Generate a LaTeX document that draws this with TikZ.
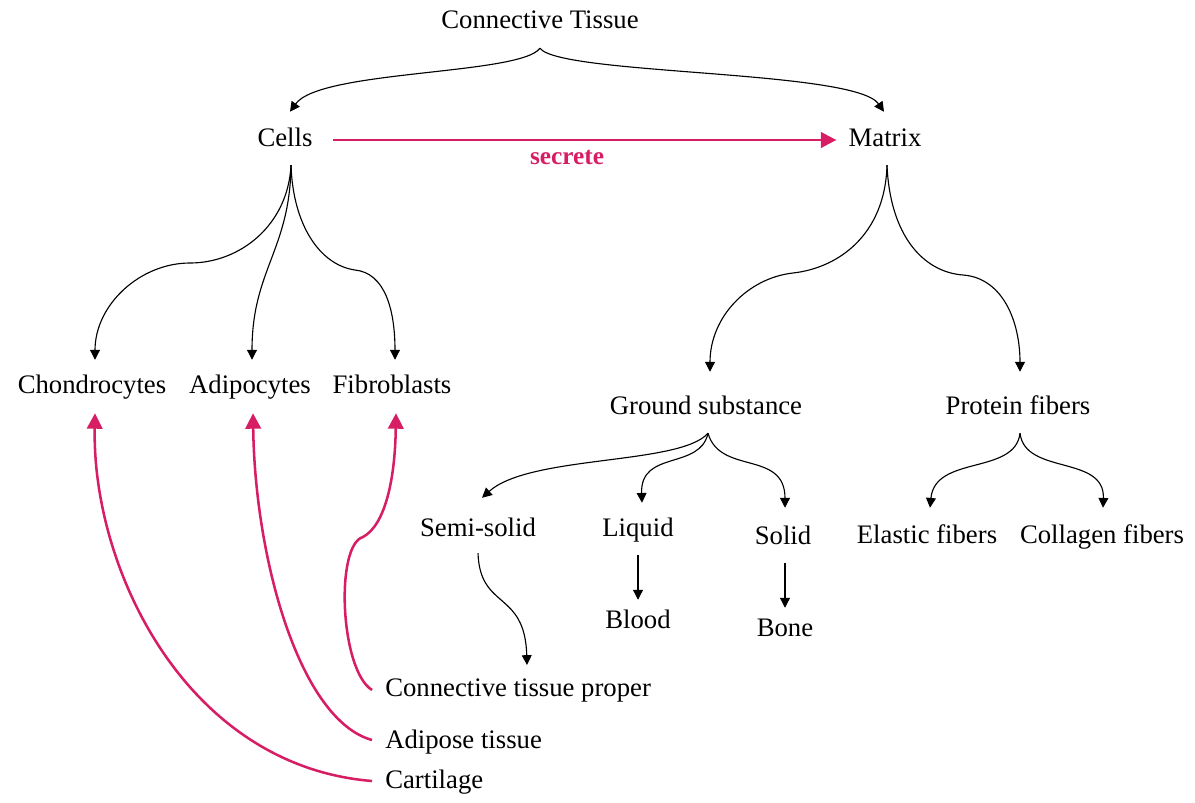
\documentclass[tikz,border=0pt]{standalone}
\usepackage{fontspec}
\setmainfont{Liberation Serif}
\usepackage{tikz}
\usetikzlibrary{arrows.meta,calc}
\definecolor{secpink}{RGB}{215,30,100}

\begin{document}
\begin{tikzpicture}
[x=0.025cm,y=-0.025cm]
\tikzset{lbl/.style={inner sep=0pt,text height=13pt,text depth=4pt,font=\fontsize{19pt}{22pt}\selectfont}}
\tikzset{arr/.style={line width=0.8pt,-{Triangle[length=7pt,width=7pt]}}}
\tikzset{pinkarr/.style={secpink,line width=1.8pt,-{Triangle[length=11pt,width=11pt]}}}
\useasboundingbox (0,0) rectangle (1195,802);
\node [lbl] (ct) at (540,22) {Connective Tissue};
\node [lbl] (cells) at (285,140) {Cells};
\node [lbl] (matrix) at (885,140) {Matrix};
\node [lbl,text=secpink,font=\fontsize{18pt}{22pt}\selectfont\bfseries] (secrete) at (567,158) {secrete};
\node [lbl] (chon) at (92,387) {Chondrocytes};
\node [lbl] (adipo) at (250,387) {Adipocytes};
\node [lbl] (fibro) at (392,387) {Fibroblasts};
\node [lbl] (ground) at (706,408) {Ground substance};
\node [lbl] (protein) at (1018,408) {Protein fibers};
\node [lbl] (semi) at (478,530) {Semi-solid};
\node [lbl] (liquid) at (638,530) {Liquid};
\node [lbl] (solid) at (783,538) {Solid};
\node [lbl] (blood) at (638,622) {Blood};
\node [lbl] (bone) at (785,630) {Bone};
\node [lbl] (elastic) at (927,537) {Elastic fibers};
\node [lbl] (collagen) at (1102,537) {Collagen fibers};
\node [lbl,anchor=west] (proper) at (385,690) {Connective tissue proper};
\node [lbl,anchor=west] (adipose) at (385,742) {Adipose tissue};
\node [lbl,anchor=west] (cart) at (385,782) {Cartilage};

% top level
\draw [arr] ($(ct.south)+(0,14)$) .. controls +(-20,27) and +(30,-42) .. ($(cells.north)+(5,-16)$);
\draw [arr] ($(ct.south)+(0,14)$) .. controls +(20,27) and +(-29,-42) .. ($(matrix.north)+(-1,-16)$);
\draw [pinkarr] ($(cells.east)+(20,0)$) -- ($(matrix.west)+(-12,0)$);

% cells
\draw [arr] ($(cells.south)+(6,13)$) .. controls +(-3,60) and +(50,0) .. (190,263)
  .. controls +(-50,0) and +(0,-55) .. ($(chon.north)+(3,-15)$);
\draw [arr] ($(cells.south)+(6,13)$) .. controls +(-1,85) and +(0,-90) .. ($(adipo.north)+(2,-15)$);
\draw [arr] ($(cells.south)+(6,13)$) .. controls +(2,60) and +(-35,-5) .. (355,270)
  .. controls +(30,3) and +(0,-50) .. ($(fibro.north)+(3,-15)$);

% matrix
\draw [arr] ($(matrix.south)+(2,13)$) .. controls +(-2,70) and +(45,-5) .. (793,273)
  .. controls +(-45,5) and +(0,-55) .. ($(ground.north)+(4,-24)$);
\draw [arr] ($(matrix.south)+(2,13)$) .. controls +(3,70) and +(-40,-3) .. (963,275)
  .. controls +(40,3) and +(0,-50) .. ($(protein.north)+(2,-24)$);

\draw [arr] ($(ground.south)+(2,13)$) .. controls +(-28,32) and +(48,-43) .. ($(semi.north)+(4,-20)$);
\draw [arr] ($(ground.south)+(2,13)$) .. controls +(-8,37) and +(-2,-53) .. ($(liquid.north)+(4,-15)$);
\draw [arr] ($(ground.south)+(2,13)$) .. controls +(12,42) and +(0,-58) .. ($(solid.north)+(2,-18)$);
\draw [arr] ($(protein.south)+(2,13)$) .. controls +(-5,42) and +(5,-53) .. ($(elastic.north)+(3,-17)$);
\draw [arr] ($(protein.south)+(2,13)$) .. controls +(5,42) and +(2,-53) .. ($(collagen.north)+(1,-17)$);

\draw [arr] ($(liquid.south)+(0,13)$) -- ($(blood.north)+(0,-10)$);
\draw [arr] ($(solid.south)+(2,13)$) -- ($(bone.north)+(0,-10)$);
\draw [arr] ($(semi.south)+(0,11)$) .. controls +(2,57) and +(-2,-75) .. ($(proper.west)+(142,-25)$);

% tissues back to cells
\draw [pinkarr] ($(proper.west)+(-13,0)$) .. controls +(-32,-20) and +(-28,8) .. (363,537)
  .. controls +(22,-12) and +(-1,67) .. ($(fibro.south)+(4,14)$);
\draw [pinkarr] ($(adipose.west)+(-13,-2)$) .. controls +(-72,-20) and +(2,147) .. ($(adipo.south)+(3,14)$);
\draw [pinkarr] ($(cart.west)+(-13,-1)$) .. controls +(-185,-15) and +(-3,157) .. ($(chon.south)+(3,14)$);

\end{tikzpicture}
\end{document}
